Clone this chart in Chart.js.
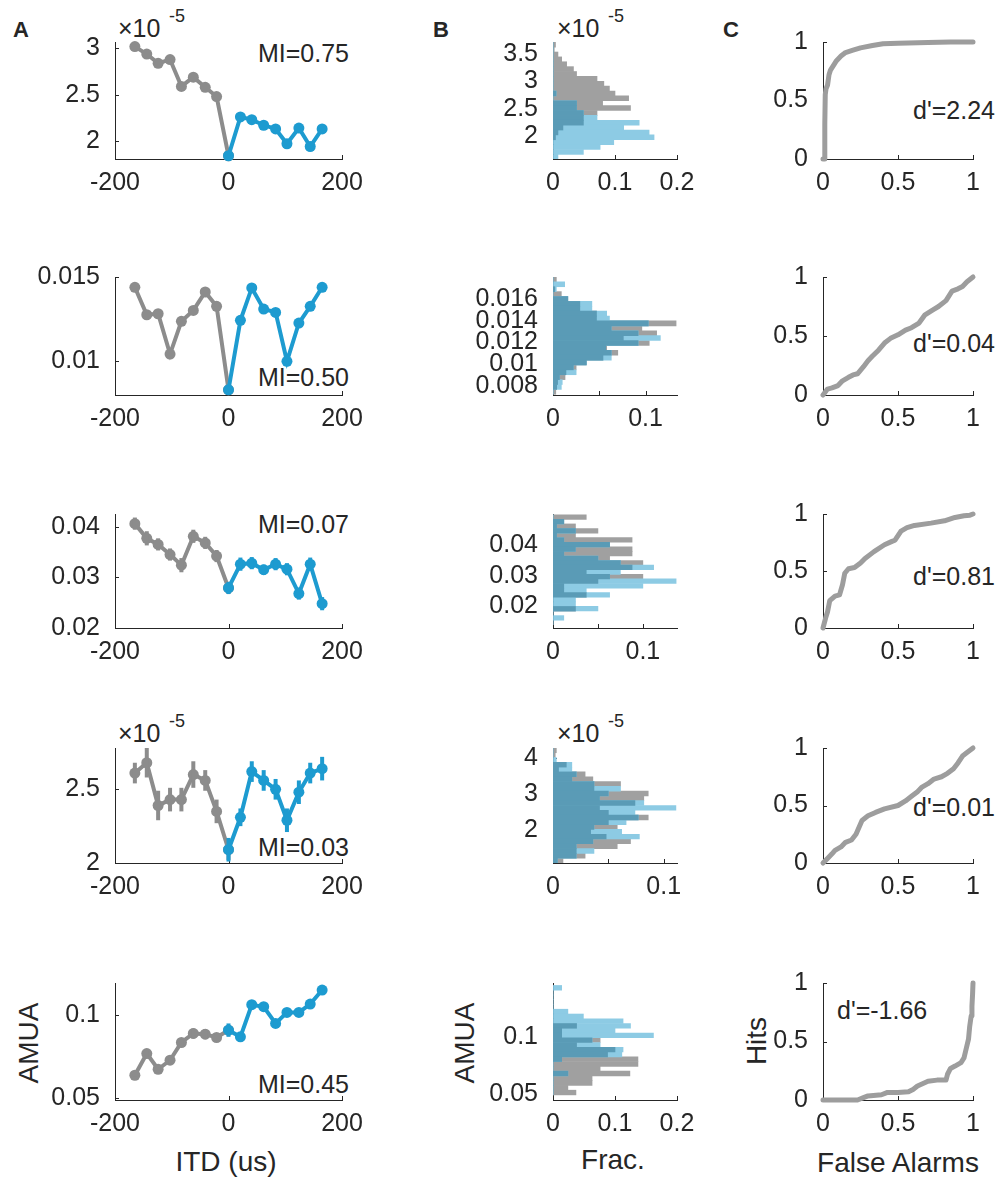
<!DOCTYPE html>
<html lang="en">
<head>
<meta charset="UTF-8">
<title>ITD tuning, response histograms and ROC</title>
<script src="https://cdn.jsdelivr.net/npm/chart.js"></script>
<style>
  body { margin: 0; background: #fff; }
  #fig { position: relative; width: 1000px; height: 1177px; overflow: hidden;
         font-family: 'Liberation Sans', Arial, sans-serif; color: #262626; }
  #fig canvas { position: absolute; }
  .t { position: absolute; font-size: 25px; line-height: 1; white-space: nowrap; transform: translateY(-50%); }
  .r { transform: translate(-100%, -50%); }
  .c { transform: translate(-50%, -50%); font-size: 28px; }
  .v { transform: translate(-50%, -50%) rotate(-90deg); font-size: 28px; }
  .p { font-weight: bold; font-size: 22px; }
  .s { font-size: 18px; }
</style>
</head>
<body>
<div id="fig">
  <div class="t p" style="left:13px;top:30px">A</div>
  <div class="t p" style="left:433px;top:30px">B</div>
  <div class="t p" style="left:723px;top:30px">C</div>

  <div class="t" style="left:118px;top:28px">×10</div>
  <div class="t s" style="left:169px;top:16px">-5</div>
  <div class="t" style="left:557px;top:28px">×10</div>
  <div class="t s" style="left:608px;top:16px">-5</div>
  <div class="t" style="left:118px;top:733px">×10</div>
  <div class="t s" style="left:169px;top:721px">-5</div>
  <div class="t" style="left:557px;top:733px">×10</div>
  <div class="t s" style="left:608px;top:721px">-5</div>

  <div class="t r" style="left:349px;top:53px">MI=0.75</div>
  <div class="t r" style="left:349px;top:377px">MI=0.50</div>
  <div class="t r" style="left:349px;top:524px">MI=0.07</div>
  <div class="t r" style="left:349px;top:847px">MI=0.03</div>
  <div class="t r" style="left:349px;top:1084px">MI=0.45</div>

  <div class="t r" style="left:995px;top:110px">d'=2.24</div>
  <div class="t r" style="left:995px;top:343px">d'=0.04</div>
  <div class="t r" style="left:995px;top:576px">d'=0.81</div>
  <div class="t r" style="left:995px;top:807px">d'=0.01</div>
  <div class="t" style="left:837px;top:1010px">d'=-1.66</div>

  <div class="t v" style="left:29px;top:1043px">AMUA</div>
  <div class="t c" style="left:226px;top:1162px">ITD (us)</div>
  <div class="t v" style="left:465px;top:1043px">AMUA</div>
  <div class="t c" style="left:613px;top:1160px">Frac.</div>
  <div class="t v" style="left:757px;top:1041px">Hits</div>
  <div class="t c" style="left:898px;top:1163px">False Alarms</div>
</div>

<script>
// ---- column A: ITD tuning (left half gray, right half blue) ----
const itdL = [-165, -144, -124, -103, -83, -62, -41, -21, 0];
const itdR = [0, 21, 41, 62, 83, 103, 124, 144, 165];

const a1L = [3.02, 2.94, 2.84, 2.88, 2.59, 2.69, 2.58, 2.48, 1.84];   // x1e-5
const a1R = [1.84, 2.26, 2.23, 2.17, 2.13, 1.97, 2.14, 1.94, 2.13];
const a2L = [0.01439, 0.01276, 0.01282, 0.01043, 0.01237, 0.01302, 0.01411, 0.01326, 0.00831];
const a2R = [0.00831, 0.01243, 0.01435, 0.0131, 0.0129, 0.0100, 0.01227, 0.01326, 0.01439];
const a3L = [0.0406, 0.0377, 0.0365, 0.0345, 0.0324, 0.0381, 0.0368, 0.0342, 0.0279];
const a3R = [0.0279, 0.0326, 0.0328, 0.0315, 0.0326, 0.0316, 0.0268, 0.0326, 0.0248];
const a3eL = [0.0012, 0.0014, 0.0012, 0.0012, 0.0014, 0.0013, 0.0012, 0.0012, 0.0012];
const a3eR = [0.0012, 0.0013, 0.0012, 0.0010, 0.0012, 0.0012, 0.0012, 0.0013, 0.0013];
const a4L = [2.61, 2.68, 2.39, 2.43, 2.43, 2.60, 2.56, 2.35, 2.09];   // x1e-5
const a4R = [2.09, 2.31, 2.62, 2.56, 2.50, 2.29, 2.48, 2.61, 2.64];
const a4eL = [0.07, 0.10, 0.10, 0.08, 0.08, 0.09, 0.07, 0.08, 0.07];
const a4eR = [0.08, 0.06, 0.07, 0.07, 0.07, 0.08, 0.08, 0.07, 0.08];
const a5L = [0.0638, 0.0768, 0.0674, 0.0728, 0.0834, 0.0888, 0.0884, 0.0864, 0.0908];
const a5R = [0.0908, 0.0868, 0.1060, 0.1048, 0.0948, 0.1014, 0.1014, 0.1064, 0.1148];
const a5eL = [0.001, 0.002, 0.002, 0.002, 0.002, 0.003, 0.003, 0.002, 0.002];
const a5eR = [0.004, 0.002, 0.002, 0.002, 0.002, 0.002, 0.002, 0.002, 0.002];

// ---- column B: response histograms (bin centers, gray / blue fractions) ----
const b1Bins = [3.68, 3.59, 3.50, 3.41, 3.32, 3.23, 3.14, 3.05, 2.96, 2.87, 2.78, 2.69,
                2.60, 2.51, 2.42, 2.33, 2.24, 2.15, 2.06, 1.97, 1.88, 1.79, 1.70, 1.61];
const b1Gray = [0.004, 0.002, 0.008, 0.014, 0.022, 0.033, 0.038, 0.071, 0.082, 0.091, 0.100, 0.122,
                0.080, 0.125, 0.071, 0.049, 0.049, 0.016, 0.008, 0.004, 0, 0, 0, 0];
const b1Blue = [0, 0, 0, 0, 0, 0, 0, 0, 0, 0, 0.005, 0,
                0.038, 0.038, 0.049, 0.071, 0.139, 0.114, 0.155, 0.163, 0.098, 0.076, 0.049, 0.008];

const b2Bins = [0.01780, 0.01735, 0.01690, 0.01645, 0.01600, 0.01555, 0.01510, 0.01465, 0.01420, 0.01375, 0.01330, 0.01285,
                0.01240, 0.01195, 0.01150, 0.01105, 0.01060, 0.01015, 0.00970, 0.00925, 0.00880, 0.00835, 0.00790, 0.00745];
const b2Gray = [0.0036, 0, 0.002, 0.009, 0.016, 0.029, 0.029, 0.047, 0.047, 0.133, 0.096, 0.112,
                0.076, 0.104, 0.058, 0.070, 0.054, 0.036, 0.025, 0.014, 0.013, 0.005, 0.004, 0.003];
const b2Blue = [0, 0.0126, 0.0036, 0, 0.016, 0.042, 0.042, 0.058, 0.061, 0.103, 0.063, 0.092,
                0.116, 0.092, 0.057, 0.063, 0.063, 0.036, 0.022, 0.025, 0.007, 0.010, 0.009, 0];

const b3Bins = [0.0492, 0.0477, 0.0462, 0.0447, 0.0432, 0.0417, 0.0402, 0.0387, 0.0372, 0.0357, 0.0342, 0.0327,
                0.0312, 0.0297, 0.0282, 0.0267, 0.0252, 0.0237, 0.0222, 0.0207, 0.0192, 0.0177, 0.0162, 0.0147];
const b3Gray = [0.037, 0.012, 0.025, 0.050, 0.025, 0.088, 0.063, 0.088, 0.088, 0.063, 0.100, 0.088,
                0.037, 0.100, 0.050, 0.012, 0.012, 0.037, 0, 0, 0.025, 0, 0, 0];
const b3Blue = [0, 0.012, 0.004, 0.025, 0.004, 0.012, 0.063, 0.025, 0.012, 0.050, 0.075, 0.112,
                0.075, 0.063, 0.137, 0.100, 0.037, 0.063, 0.025, 0.025, 0.050, 0, 0.012, 0];

const b4Bins = [4.215, 4.083, 3.950, 3.818, 3.685, 3.553, 3.420, 3.288, 3.155, 3.023, 2.890, 2.758,
                2.625, 2.493, 2.360, 2.228, 2.095, 1.963, 1.830, 1.698, 1.565, 1.433, 1.300, 1.168];
const b4Gray = [0.003, 0.002, 0, 0.012, 0.005, 0.029, 0.036, 0.061, 0.037, 0.086, 0.082, 0.074,
                0.042, 0.050, 0.086, 0.050, 0.058, 0.034, 0.048, 0.070, 0.058, 0.021, 0.029, 0.009];
const b4Blue = [0, 0, 0.003, 0.017, 0.017, 0.021, 0.017, 0.037, 0.061, 0.050, 0.042, 0.082,
                0.111, 0.074, 0.077, 0.066, 0.037, 0.062, 0.078, 0.036, 0.021, 0.037, 0.021, 0.004];

const b5Bins = [0.1426, 0.1385, 0.1343, 0.1302, 0.1260, 0.1219, 0.1177, 0.1136, 0.1094, 0.1053, 0.1011, 0.0970,
                0.0928, 0.0887, 0.0845, 0.0804, 0.0762, 0.0721, 0.0679, 0.0638, 0.0596, 0.0555, 0.0513];
const b5Gray = [0, 0, 0, 0, 0, 0, 0, 0, 0.038, 0.014, 0.014, 0.076,
                0.038, 0.100, 0.088, 0.137, 0.137, 0.076, 0.124, 0.063, 0.063, 0.024, 0.037];
const b5Blue = [0.014, 0, 0, 0, 0, 0.024, 0.049, 0.113, 0.125, 0.100, 0.162, 0.063,
                0.076, 0.113, 0.111, 0.014, 0, 0, 0.024, 0, 0, 0, 0];

// ---- column C: ROC curves (false alarms, hits) ----
const c1FA = [0, 0.01, 0.012, 0.015, 0.02, 0.03, 0.04, 0.05, 0.07, 0.09, 0.12, 0.15, 0.2, 0.25, 0.33, 0.4, 0.5, 0.7, 0.85, 1];
const c1Hit = [0, 0, 0.3, 0.55, 0.6, 0.63, 0.72, 0.76, 0.8, 0.84, 0.88, 0.91, 0.93, 0.95, 0.97, 0.985, 0.99, 0.995, 1, 1];
const c2FA = [0, 0.03, 0.06, 0.1, 0.13, 0.17, 0.2, 0.23, 0.27, 0.3, 0.33, 0.37, 0.41, 0.45, 0.5, 0.55, 0.59, 0.64, 0.68, 0.73, 0.77, 0.82, 0.86, 0.9, 0.93, 0.96, 1];
const c2Hit = [0, 0.05, 0.06, 0.08, 0.12, 0.15, 0.17, 0.18, 0.24, 0.29, 0.33, 0.38, 0.44, 0.48, 0.51, 0.55, 0.57, 0.61, 0.68, 0.72, 0.75, 0.8, 0.88, 0.9, 0.92, 0.96, 1];
const c3FA = [0, 0.02, 0.03, 0.045, 0.08, 0.11, 0.13, 0.145, 0.17, 0.21, 0.25, 0.28, 0.34, 0.41, 0.46, 0.48, 0.52, 0.56, 0.61, 0.72, 0.81, 0.88, 0.94, 0.98, 1];
const c3Hit = [0, 0.1, 0.14, 0.24, 0.28, 0.29, 0.38, 0.48, 0.52, 0.53, 0.57, 0.61, 0.67, 0.73, 0.76, 0.77, 0.85, 0.88, 0.9, 0.92, 0.94, 0.97, 0.985, 0.99, 1];
const c4FA = [0, 0.03, 0.06, 0.08, 0.12, 0.15, 0.19, 0.22, 0.26, 0.3, 0.35, 0.41, 0.5, 0.55, 0.59, 0.63, 0.66, 0.7, 0.74, 0.79, 0.83, 0.87, 0.9, 0.93, 0.96, 1];
const c4Hit = [0, 0.04, 0.08, 0.11, 0.14, 0.18, 0.2, 0.25, 0.37, 0.41, 0.44, 0.47, 0.5, 0.54, 0.58, 0.62, 0.66, 0.69, 0.73, 0.75, 0.78, 0.82, 0.87, 0.93, 0.96, 1];
const c5FA = [0, 0.1, 0.23, 0.27, 0.3, 0.39, 0.43, 0.5, 0.57, 0.6, 0.63, 0.7, 0.76, 0.82, 0.83, 0.85, 0.88, 0.92, 0.94, 0.955, 0.97, 0.978, 0.988, 0.993, 0.997, 1];
const c5Hit = [0, 0, 0, 0.02, 0.035, 0.045, 0.065, 0.065, 0.07, 0.09, 0.12, 0.16, 0.17, 0.17, 0.22, 0.27, 0.29, 0.32, 0.36, 0.44, 0.52, 0.63, 0.72, 0.8, 0.9, 1];

// ---- tick values ----
const itdTicks = [-200, 0, 200];
const fracTicksWide = [0, 0.1, 0.2];
const fracTicksNarrow = [0, 0.05, 0.1];
const fracLabelsNarrow = ['0', '', '0.1'];
const rocTicks = [0, 0.5, 1];

// ---- styling / layout ----
const FONT = "'Liberation Sans', Arial, sans-serif";
const INK = '#262626';
const GRAY = '#8c8c8c';
const BLUE = '#1d9bd0';
const HIST_GRAY = '#a0a0a0';
const HIST_BLUE = '#8dcbe4';
const HIST_BOTH = '#5a9bb6';
const ROC_GRAY = '#9d9d9d';
const YW = 100, PT = 40, PR = 30, XH = 80;

const colA = [115, 342], colB = [553, 677], colC = [823, 973];
const rows = [[42, 159], [277, 395], [514, 628], [748, 863], [983, 1100]];

function axis(min, max, ticks, labels, isX) {
  return {
    type: 'linear', min: min, max: max, offset: false,
    grid: { display: false, drawTicks: false },
    border: { display: true, color: INK, width: 1 },
    ticks: {
      autoSkip: false, maxRotation: 0, minRotation: 0, color: INK,
      font: { size: 25, family: FONT }, padding: isX ? 9 : 15,
      callback: (v, i) => labels ? labels[i] : String(v)
    },
    afterBuildTicks: s => { s.ticks = ticks.map(v => ({ value: v })); },
    afterFit: s => { if (isX) s.height = XH; else s.width = YW; }
  };
}

// short inward tick marks, MATLAB style
const inTicks = {
  id: 'inTicks',
  beforeDatasetsDraw(chart) {
    const { ctx, chartArea: a, scales: { x, y } } = chart;
    ctx.save();
    ctx.strokeStyle = INK;
    ctx.lineWidth = 1;
    ctx.beginPath();
    x.ticks.forEach(t => {
      const p = Math.round(x.getPixelForValue(t.value)) + 0.5;
      ctx.moveTo(p, a.bottom); ctx.lineTo(p, a.bottom - 4);
    });
    y.ticks.forEach(t => {
      const p = Math.round(y.getPixelForValue(t.value)) + 0.5;
      ctx.moveTo(a.left, p); ctx.lineTo(a.left + 4, p);
    });
    ctx.stroke();
    ctx.restore();
  }
};

// vertical error bars from dataset.err
const errBars = {
  id: 'errBars',
  afterDatasetDraw(chart, args) {
    const ds = chart.data.datasets[args.index];
    if (!ds.err) return;
    const { ctx } = chart;
    const { x, y } = chart.scales;
    ctx.save();
    ctx.strokeStyle = ds.borderColor;
    ctx.lineWidth = 4;
    ds.data.forEach((p, i) => {
      const px = x.getPixelForValue(p.x);
      ctx.beginPath();
      ctx.moveTo(px, y.getPixelForValue(p.y - ds.err[i]));
      ctx.lineTo(px, y.getPixelForValue(p.y + ds.err[i]));
      ctx.stroke();
    });
    ctx.restore();
  }
};

function panel(col, row, type, datasets, xScale, yScale, extra) {
  const fig = document.getElementById('fig');
  const c = document.createElement('canvas');
  const w = col[1] - col[0] + YW + PR, h = row[1] - row[0] + PT + XH;
  c.width = w; c.height = h;
  c.style.width = w + 'px'; c.style.height = h + 'px';
  c.style.left = (col[0] - YW) + 'px';
  c.style.top = (row[0] - PT) + 'px';
  fig.appendChild(c);
  new Chart(c, {
    type: type,
    data: { datasets: datasets },
    options: Object.assign({
      responsive: false, animation: false, devicePixelRatio: 1, events: [],
      layout: { padding: { top: PT, right: PR, left: 0, bottom: 0 } },
      plugins: { legend: { display: false }, tooltip: { enabled: false } },
      scales: { x: xScale, y: yScale }
    }, extra || {}),
    plugins: [inTicks, errBars]
  });
}

function series(xs, ys, err, color) {
  return {
    data: xs.map((v, i) => ({ x: v, y: ys[i] })), err: err,
    borderColor: color, backgroundColor: color, pointBackgroundColor: color,
    borderWidth: 4, pointRadius: 5.5, pointBorderWidth: 0, tension: 0, clip: false
  };
}

function hist(bins, vals, color) {
  return {
    data: bins.map((b, i) => ({ x: vals[i], y: b })),
    backgroundColor: color, borderWidth: 0,
    barPercentage: 1, categoryPercentage: 1, grouped: false
  };
}

function roc(fa, hits) {
  return {
    data: fa.map((v, i) => ({ x: v, y: hits[i] })),
    borderColor: ROC_GRAY, borderWidth: 5, pointRadius: 0, tension: 0,
    borderJoinStyle: 'round', borderCapStyle: 'round', clip: false
  };
}

// column A
const tuning = [
  [a1L, a1R, null, null, 1.805, 3.07, [2, 2.5, 3]],
  [a2L, a2R, null, null, 0.008, 0.015, [0.01, 0.015]],
  [a3L, a3R, a3eL, a3eR, 0.02, 0.0425, [0.02, 0.03, 0.04]],
  [a4L, a4R, a4eL, a4eR, 2.0, 2.78, [2, 2.5]],
  [a5L, a5R, a5eL, a5eR, 0.049, 0.119, [0.05, 0.1]]
];
tuning.forEach((t, r) => {
  panel(colA, rows[r], 'line',
    [series(itdR, t[1], t[3], BLUE), series(itdL, t[0], t[2], GRAY)],
    axis(-200, 200, itdTicks, null, true),
    axis(t[4], t[5], t[6], null, false));
});

// column B: opaque layers, the shared part of both histograms drawn on top
const hists = [
  [b1Bins, b1Gray, b1Blue, 0.2, fracTicksWide, null, 1.57, 3.73, [2, 2.5, 3, 3.5]],
  [b2Bins, b2Gray, b2Blue, 0.134, fracTicksNarrow, fracLabelsNarrow, 0.00716, 0.01802, [0.008, 0.01, 0.012, 0.014, 0.016]],
  [b3Bins, b3Gray, b3Blue, 0.138, fracTicksNarrow, fracLabelsNarrow, 0.0129, 0.0502, [0.02, 0.03, 0.04]],
  [b4Bins, b4Gray, b4Blue, 0.112, fracTicksNarrow, fracLabelsNarrow, 1.10, 4.28, [2, 3, 4]],
  [b5Bins, b5Gray, b5Blue, 0.2, fracTicksWide, null, 0.0448, 0.1468, [0.05, 0.1]]
];
hists.forEach((h, r) => {
  const both = h[1].map((g, i) => Math.min(g, h[2][i]));
  panel(colB, rows[r], 'bar',
    [hist(h[0], both, HIST_BOTH), hist(h[0], h[2], HIST_BLUE), hist(h[0], h[1], HIST_GRAY)],
    axis(0, h[3], h[4], h[5], true),
    axis(h[6], h[7], h[8], null, false),
    { indexAxis: 'y' });
});

// column C
[[c1FA, c1Hit], [c2FA, c2Hit], [c3FA, c3Hit], [c4FA, c4Hit], [c5FA, c5Hit]].forEach((d, r) => {
  panel(colC, rows[r], 'line', [roc(d[0], d[1])],
    axis(0, 1, rocTicks, null, true),
    axis(0, 1, rocTicks, null, false));
});
</script>
</body>
</html>
